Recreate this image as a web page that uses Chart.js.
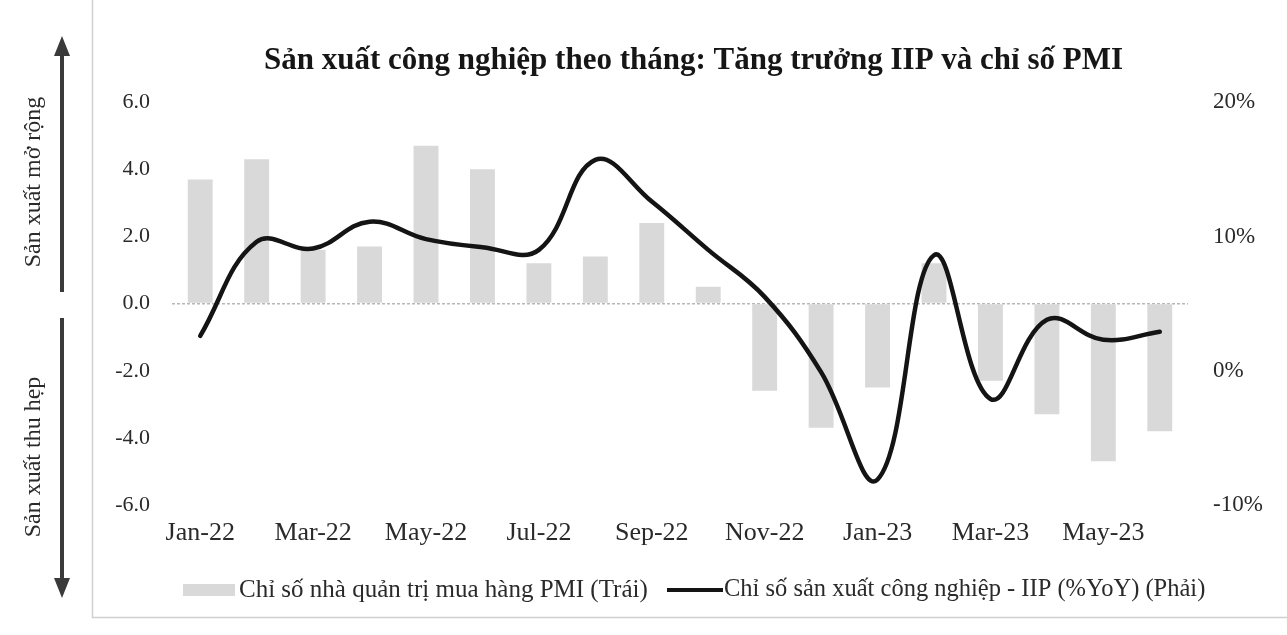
<!DOCTYPE html>
<html>
<head>
<meta charset="utf-8">
<script src="https://cdn.jsdelivr.net/npm/chart.js@4.4.1/dist/chart.umd.min.js"></script>
<style>
  html, body { margin: 0; padding: 0; background: #ffffff; }
  #wrap { position: relative; width: 1287px; height: 635px; }
  canvas { position: absolute; left: 0; top: 0; }
</style>
</head>
<body>
<div id="wrap"><canvas id="c" width="1287" height="635"></canvas></div>
<script>
// ---- Data ----
const months = ["Jan-22","Feb-22","Mar-22","Apr-22","May-22","Jun-22","Jul-22","Aug-22","Sep-22","Oct-22","Nov-22","Dec-22","Jan-23","Feb-23","Mar-23","Apr-23","May-23","Jun-23"];
const pmiValues = [3.7, 4.3, 1.6, 1.7, 4.7, 4.0, 1.2, 1.4, 2.4, 0.5, -2.6, -3.7, -2.5, 1.2, -2.3, -3.3, -4.7, -3.8];
const iipValues = [2.6, 9.6, 9.1, 11.1, 9.8, 9.2, 9.0, 15.7, 12.6, 9.0, 5.5, -0.1, -8.1, 8.6, -2.1, 3.8, 2.3, 2.9];
const leftTicks = [-6, -4, -2, 0, 2, 4, 6];
const rightTicks = [-10, 0, 10, 20];
const titleText = "Sản xuất công nghiệp theo tháng: Tăng trưởng IIP và chỉ số PMI";
const pmiLabel = "Chỉ số nhà quản trị mua hàng PMI (Trái)";
const iipLabel = "Chỉ số sản xuất công nghiệp - IIP (%YoY) (Phải)";
const upLabel = "Sản xuất mở rộng";
const downLabel = "Sản xuất thu hẹp";

const SERIF = "'Liberation Serif', 'DejaVu Serif', serif";
const TEXT = '#2a2a2a';
const BAR = '#d9d9d9';

// ---- Decorations: frame, side arrows, legend ----
const decor = {
  id: 'decor',
  beforeDraw(chart) {
    const ctx = chart.ctx;
    ctx.save();
    ctx.fillStyle = '#ffffff';
    ctx.fillRect(0, 0, chart.width, chart.height);
    ctx.strokeStyle = '#d0d0d0';
    ctx.lineWidth = 1.5;
    ctx.beginPath();
    ctx.moveTo(92.5, 0);
    ctx.lineTo(92.5, 617.5);
    ctx.lineTo(1287, 617.5);
    ctx.stroke();
    ctx.restore();
  },
  afterDraw(chart) {
    const ctx = chart.ctx;
    ctx.save();
    // side arrows
    const ax = 62;
    ctx.strokeStyle = '#3a3a3a';
    ctx.fillStyle = '#3a3a3a';
    ctx.lineWidth = 4;
    ctx.beginPath();
    ctx.moveTo(ax, 52); ctx.lineTo(ax, 292);
    ctx.moveTo(ax, 318); ctx.lineTo(ax, 582);
    ctx.stroke();
    ctx.beginPath();
    ctx.moveTo(ax, 36); ctx.lineTo(ax - 8, 56); ctx.lineTo(ax + 8, 56); ctx.closePath();
    ctx.fill();
    ctx.beginPath();
    ctx.moveTo(ax, 598); ctx.lineTo(ax - 8, 578); ctx.lineTo(ax + 8, 578); ctx.closePath();
    ctx.fill();
    // rotated labels
    ctx.fillStyle = TEXT;
    ctx.font = "24px " + SERIF;
    ctx.textAlign = 'center';
    ctx.textBaseline = 'middle';
    [[upLabel, 182], [downLabel, 457]].forEach(([t, cy]) => {
      ctx.save();
      ctx.translate(34, cy);
      ctx.rotate(-Math.PI / 2);
      ctx.fillText(t, 0, 0);
      ctx.restore();
    });
    // legend
    const ly = 590;
    const bar = chart.data.datasets[1];
    const line = chart.data.datasets[0];
    ctx.fillStyle = bar.backgroundColor;
    ctx.fillRect(183, ly - 6, 52, 12);
    ctx.strokeStyle = line.borderColor;
    ctx.lineWidth = 4;
    ctx.beginPath();
    ctx.moveTo(667, ly); ctx.lineTo(723, ly);
    ctx.stroke();
    ctx.fillStyle = TEXT;
    ctx.textAlign = 'left';
    ctx.textBaseline = 'middle';
    ctx.font = "25px " + SERIF;
    ctx.fillText(bar.label, 239, ly);
    ctx.font = "24.5px " + SERIF;
    ctx.fillText(line.label, 724, ly);
    ctx.restore();
  }
};

new Chart(document.getElementById('c'), {
  type: 'bar',
  data: {
    labels: months,
    datasets: [
      {
        type: 'line',
        label: iipLabel,
        data: iipValues,
        yAxisID: 'y1',
        borderColor: '#141414',
        backgroundColor: '#141414',
        borderWidth: 4.5,
        tension: 0.4,
        pointRadius: 0,
        borderCapStyle: 'round',
        order: 0
      },
      {
        type: 'bar',
        label: pmiLabel,
        data: pmiValues,
        yAxisID: 'y',
        backgroundColor: BAR,
        barPercentage: 0.9,
        categoryPercentage: 0.49,
        order: 1
      }
    ]
  },
  options: {
    responsive: false,
    animation: false,
    devicePixelRatio: 1,
    layout: { padding: { left: 100, right: 0, top: 0, bottom: 85 } },
    plugins: {
      legend: { display: false },
      tooltip: { enabled: false },
      title: {
        display: true,
        text: titleText,
        color: '#161616',
        font: { family: SERIF, size: 31, weight: 'bold' },
        padding: { top: 42, bottom: 23 }
      }
    },
    scales: {
      x: {
        offset: true,
        grid: { display: false, drawTicks: false },
        border: { display: false },
        ticks: {
          autoSkip: false,
          maxRotation: 0,
          padding: 13,
          color: TEXT,
          font: { family: SERIF, size: 26 },
          callback: function (v, i) { return i % 2 === 0 ? months[i] : ''; }
        },
        afterFit: function (s) { s.height = 45; }
      },
      y: {
        position: 'left',
        min: leftTicks[0],
        max: leftTicks[leftTicks.length - 1],
        afterBuildTicks: function (s) { s.ticks = leftTicks.map(v => ({ value: v })); },
        grid: {
          drawTicks: false,
          color: function (c) { return c.tick && c.tick.value === 0 ? '#b8b8b8' : 'rgba(0,0,0,0)'; },
          lineWidth: 1.5
        },
        border: { display: false, dash: [3, 2] },
        ticks: {
          padding: 22,
          color: TEXT,
          font: { family: SERIF, size: 22 },
          callback: function (v) { return Number(v).toFixed(1); }
        },
        afterFit: function (s) { s.width = 72; }
      },
      y1: {
        position: 'right',
        min: rightTicks[0],
        max: rightTicks[rightTicks.length - 1],
        afterBuildTicks: function (s) { s.ticks = rightTicks.map(v => ({ value: v })); },
        grid: { display: false, drawTicks: false },
        border: { display: false },
        ticks: {
          padding: 25,
          color: TEXT,
          font: { family: SERIF, size: 23 },
          callback: function (v) { return v + '%'; }
        },
        afterFit: function (s) { s.width = 99; }
      }
    }
  },
  plugins: [decor]
});
</script>
</body>
</html>
